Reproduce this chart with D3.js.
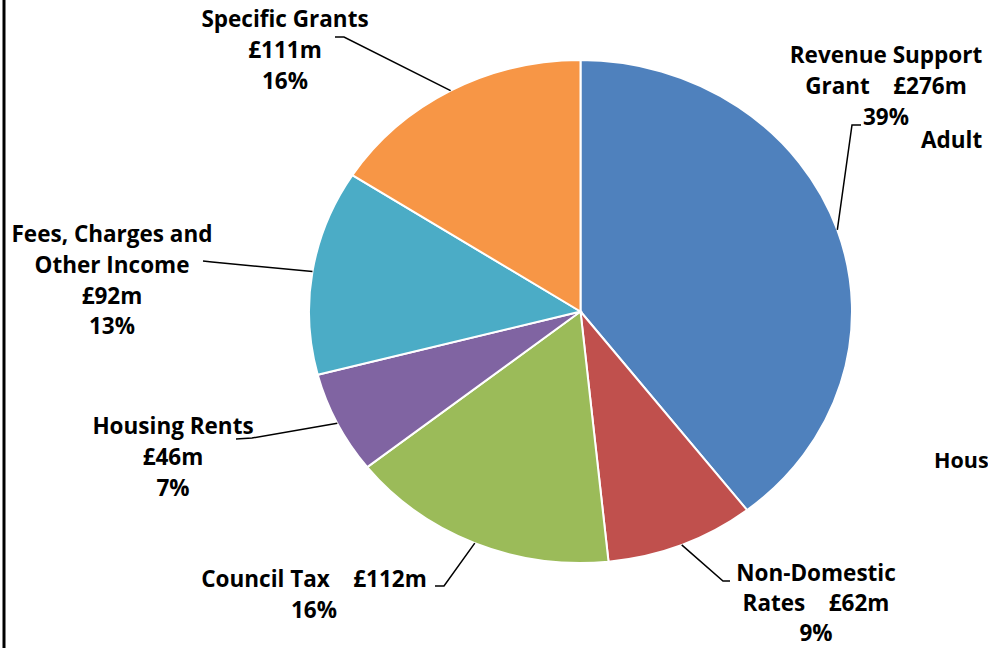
<!DOCTYPE html>
<html>
<head>
<meta charset="utf-8">
<script src="https://cdn.jsdelivr.net/npm/d3@7"></script>
<style>
  html, body { margin: 0; padding: 0; background: #fff; }
  svg { display: block; }
  text { font-family: "Open Sans", "Noto Sans", sans-serif; font-weight: 700; font-size: 22.5px; fill: #000; white-space: pre; }
</style>
</head>
<body>
<svg id="chart" width="988" height="648"></svg>
<script>
// Income sources, in £ millions, clockwise from 12 o'clock
const categories = ["Revenue Support Grant", "Non-Domestic Rates", "Council Tax", "Housing Rents", "Fees, Charges and Other Income", "Specific Grants"];
const values = [276, 62, 112, 46, 92, 111];
const percentLabels = ["39%", "9%", "16%", "7%", "13%", "16%"];
const colors = ["#4F81BD", "#C0504D", "#9BBB59", "#8064A2", "#4BACC6", "#F79646"];

// Label text lines, split the way they wrap
const labelLines = [
  ["Revenue Support", "Grant    £276m", "39%"],
  ["Non-Domestic", "Rates    £62m", "9%"],
  ["Council Tax    £112m", "16%"],
  ["Housing Rents", "£46m", "7%"],
  ["Fees, Charges and", "Other Income", "£92m", "13%"],
  ["Specific Grants", "£111m", "16%"]
];

// Label placement: centre x, first line y, line step, and leader elbow (from -> to)
const labelLayout = [
  { x: 886, y: 55, step: 30.8, elbow: [[852, 125], [861, 125]] },
  { x: 816, y: 573, step: 30.2, elbow: [[723, 581], [730, 581]] },
  { x: 314, y: 579, step: 30.5, elbow: [[444, 586], [435, 586]] },
  { x: 173, y: 426, step: 30.8, elbow: [[252, 438], [236, 439]] },
  { x: 112, y: 234, step: 30.8, elbow: [[212, 262], [203, 261]] },
  { x: 285, y: 19, step: 30.8, elbow: [[344, 37], [335, 37]] }
];

const svg = d3.select("#chart");
const cx = 580.5, cy = 311.5, rx = 271.5, ry = 251.5;

// Frame rule on the left side
svg.append("line").attr("x1", 4).attr("x2", 4).attr("y1", 0).attr("y2", 648)
  .attr("stroke", "#000").attr("stroke-width", 3);

const data = categories.map((c, i) => ({ name: c, value: values[i], pct: percentLabels[i], color: colors[i], lines: labelLines[i], layout: labelLayout[i] }));

const pie = d3.pie().value(d => d.value).sort(null);
const arcs = pie(data);
const arc = d3.arc().innerRadius(0).outerRadius(ry);

// Pie is slightly wider than tall
const g = svg.append("g").attr("transform", `translate(${cx},${cy}) scale(${rx / ry},1)`);
g.selectAll("path").data(arcs).join("path")
  .attr("d", arc)
  .attr("fill", d => d.data.color)
  .attr("stroke", "#fff")
  .attr("stroke-width", 2)
  .attr("vector-effect", "non-scaling-stroke");

// Leader lines from slice mid-angle on the rim to the label elbow
arcs.forEach(a => {
  const mid = (a.startAngle + a.endAngle) / 2;
  const px = cx + Math.sin(mid) * rx;
  const py = cy - Math.cos(mid) * ry;
  const pts = [[px, py], ...a.data.layout.elbow];
  svg.append("path")
    .attr("d", d3.line()(pts))
    .attr("fill", "none")
    .attr("stroke", "#000")
    .attr("stroke-width", 1.5);
});

// Labels
arcs.forEach(a => {
  const L = a.data.layout;
  const t = svg.append("text").attr("text-anchor", "middle");
  a.data.lines.forEach((ln, j) => {
    t.append("tspan").attr("x", L.x).attr("y", L.y + j * L.step + 8).text(ln);
  });
});

// Neighbouring labels at the right edge
svg.append("text").attr("x", 921).attr("y", 148).text("Adult");
svg.append("text").attr("x", 934).attr("y", 468).style("font-size", "21.5px").text("Hous");
</script>
</body>
</html>
